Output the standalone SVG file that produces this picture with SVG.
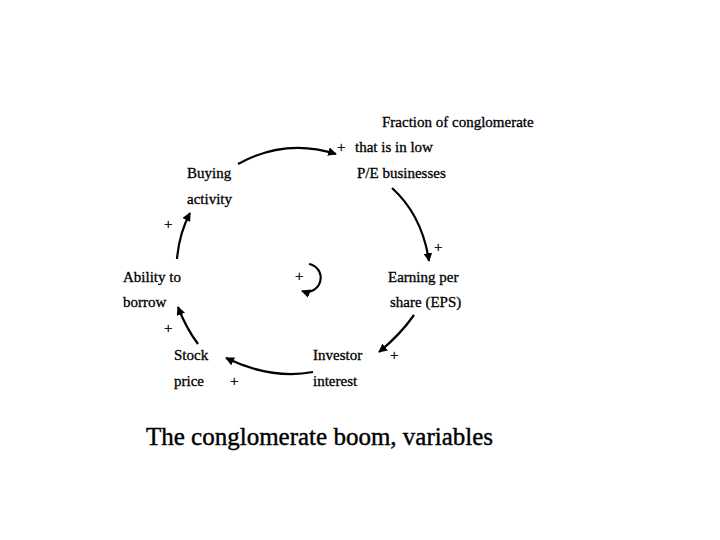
<svg xmlns="http://www.w3.org/2000/svg" width="720" height="540" viewBox="0 0 720 540">
<style>text{font-family:"Liberation Serif",serif;font-size:15px;fill:#000;stroke:#000;stroke-width:0.3}.t{font-size:25px;stroke-width:0.4}path{fill:none;stroke:#000;stroke-width:2.2}</style>
<defs><marker id="a" viewBox="0 0 10 10" refX="9" refY="5" markerWidth="4" markerHeight="4" orient="auto"><path d="M0,0L10,5L0,10z" style="fill:#000;stroke:none"/></marker></defs>
<rect width="720" height="540" fill="#fff"/>
<g id="connectors">
<path d="M238,164Q285,138 336,154" marker-end="url(#a)"/>
<path d="M392,188Q422,215 429,261" marker-end="url(#a)"/>
<path d="M414,315Q400,335 379,352" marker-end="url(#a)"/>
<path d="M313,372Q272,380 226,358" marker-end="url(#a)"/>
<path d="M198,344Q186,328 178,307" marker-end="url(#a)"/>
<path d="M177,259Q179,234 190,213" marker-end="url(#a)"/>
<path d="M309,264A14,14 0 1 1 302,291" marker-end="url(#a)"/>
</g>
<g id="fraction"><text x="382" y="127">Fraction of conglomerate</text><text x="337" y="152">+</text><text x="355" y="152">that is in low</text><text x="357" y="178">P/E businesses</text></g>
<g id="buying"><text x="187" y="178">Buying</text><text x="187" y="204">activity</text><text x="164" y="229">+</text></g>
<g id="eps"><text x="434" y="252">+</text><text x="388" y="282">Earning per</text><text x="390" y="307">share (EPS)</text></g>
<g id="ability"><text x="123" y="282">Ability to</text><text x="123" y="307">borrow</text><text x="164" y="333">+</text></g>
<g id="loop"><text x="295" y="281">+</text></g>
<g id="investor"><text x="313" y="360">Investor</text><text x="390" y="360">+</text><text x="313" y="386">interest</text></g>
<g id="stock"><text x="174" y="360">Stock</text><text x="174" y="386">price</text><text x="230" y="386">+</text></g>
<text class="t" x="146" y="445">The conglomerate boom, variables</text>
</svg>
